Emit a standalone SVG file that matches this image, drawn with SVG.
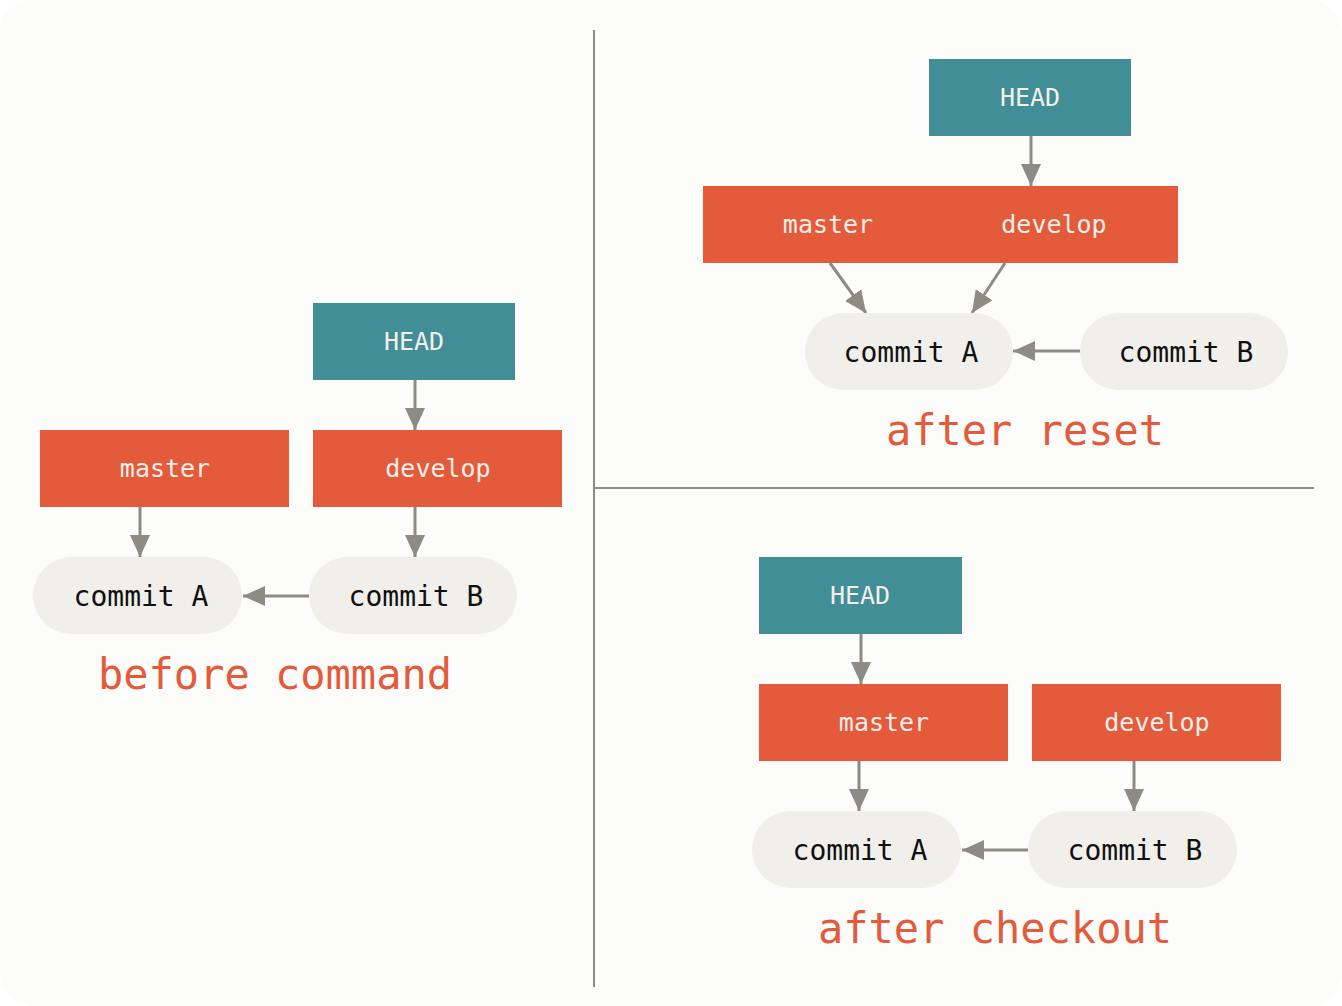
<svg xmlns="http://www.w3.org/2000/svg" width="1342" height="1006" viewBox="0 0 1342 1006">
<defs>
<style>
.head{fill:#418e97}
.branch{fill:#e35b3a}
.commit{fill:#f0efe9}
.lbl{font-family:"DejaVu Sans Mono","Liberation Mono",monospace;font-size:25px;fill:#f4efe9;text-anchor:middle}
.clbl{font-family:"DejaVu Sans Mono","Liberation Mono",monospace;font-size:28px;fill:#111;text-anchor:middle}
.title{font-family:"DejaVu Sans Mono","Liberation Mono",monospace;font-size:42px;fill:#e35b3a;text-anchor:middle}
.conn{stroke:#8e8b85;stroke-width:3;fill:none;marker-end:url(#ah)}
.div{stroke:#8e8b85;stroke-width:2;fill:none}
</style>
<marker id="ah" markerUnits="userSpaceOnUse" markerWidth="24" markerHeight="24" viewBox="0 0 24 24" refX="22" refY="12" orient="auto">
<path d="M0,2 L22,12 L0,22 Z" fill="#8e8b85"/>
</marker>
</defs>
<rect x="0" y="0" width="1342" height="1006" fill="#ffffff"/>
<rect x="0" y="0" width="1342" height="1006" rx="32" fill="#fcfcfa"/>
<g id="dividers">
<line class="div" x1="594" y1="30" x2="594" y2="987"/>
<line class="div" x1="594" y1="488" x2="1314" y2="488"/>
</g>
<g id="connectors">
<line class="conn" x1="415" y1="380" x2="415" y2="430"/>
<line class="conn" x1="140" y1="507" x2="140" y2="557"/>
<line class="conn" x1="415" y1="507" x2="415" y2="557"/>
<line class="conn" x1="309" y1="596" x2="243" y2="596"/>
<line class="conn" x1="1031" y1="136" x2="1031" y2="186"/>
<line class="conn" x1="830" y1="263" x2="866" y2="313"/>
<line class="conn" x1="1005" y1="263" x2="972" y2="313"/>
<line class="conn" x1="1080" y1="351" x2="1013" y2="351"/>
<line class="conn" x1="861" y1="634" x2="861" y2="684"/>
<line class="conn" x1="859" y1="761" x2="859" y2="811"/>
<line class="conn" x1="1134" y1="761" x2="1134" y2="811"/>
<line class="conn" x1="1028" y1="850" x2="962" y2="850"/>
</g>
<g id="before-head"><rect class="head" x="313" y="303" width="202" height="77"/><text class="lbl" x="414" y="350">HEAD</text></g>
<g id="before-master"><rect class="branch" x="40" y="430" width="249" height="77"/><text class="lbl" x="165" y="477">master</text></g>
<g id="before-develop"><rect class="branch" x="313" y="430" width="249" height="77"/><text class="lbl" x="438" y="477">develop</text></g>
<g id="before-commitA"><rect class="commit" x="33" y="557" width="209" height="77" rx="38.5"/><text class="clbl" x="141" y="606">commit A</text></g>
<g id="before-commitB"><rect class="commit" x="309" y="557" width="208" height="77" rx="38.5"/><text class="clbl" x="416" y="606">commit B</text></g>
<text class="title" x="275" y="689">before command</text>

<g id="reset-head"><rect class="head" x="929" y="59" width="202" height="77"/><text class="lbl" x="1030" y="106">HEAD</text></g>
<g id="reset-branches"><rect class="branch" x="703" y="186" width="475" height="77"/><text class="lbl" x="828" y="233">master</text><text class="lbl" x="1054" y="233">develop</text></g>
<g id="reset-commitA"><rect class="commit" x="805" y="313" width="208" height="77" rx="38.5"/><text class="clbl" x="911" y="362">commit A</text></g>
<g id="reset-commitB"><rect class="commit" x="1080" y="313" width="208" height="77" rx="38.5"/><text class="clbl" x="1186" y="362">commit B</text></g>
<text class="title" x="1025" y="445">after reset</text>

<g id="checkout-head"><rect class="head" x="759" y="557" width="203" height="77"/><text class="lbl" x="860" y="604">HEAD</text></g>
<g id="checkout-master"><rect class="branch" x="759" y="684" width="249" height="77"/><text class="lbl" x="884" y="731">master</text></g>
<g id="checkout-develop"><rect class="branch" x="1032" y="684" width="249" height="77"/><text class="lbl" x="1157" y="731">develop</text></g>
<g id="checkout-commitA"><rect class="commit" x="752" y="811" width="209" height="77" rx="38.5"/><text class="clbl" x="860" y="860">commit A</text></g>
<g id="checkout-commitB"><rect class="commit" x="1028" y="811" width="209" height="77" rx="38.5"/><text class="clbl" x="1135" y="860">commit B</text></g>
<text class="title" x="995" y="943">after checkout</text>
</svg>
